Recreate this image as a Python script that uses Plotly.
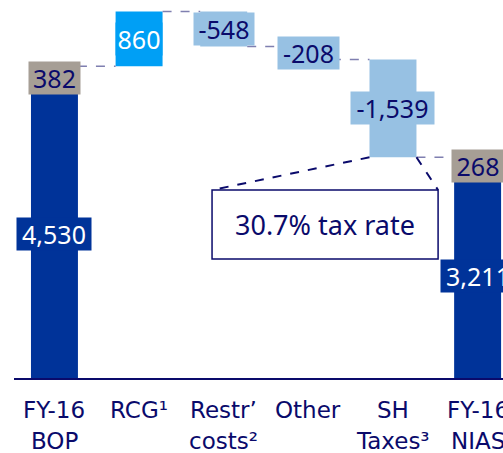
import plotly.graph_objects as go

# chart data
categories = ["FY-16<br>BOP", "RCG¹", "Restr’<br>costs²", "Other", "SH<br>Taxes³", "FY-16<br>NIAS"]
bop = 4530
bop_adj = 382
rcg = 860
restr = -548
other = -208
taxes = -1539
nias = 3211
nias_adj = 268
tax_rate_note = "30.7% tax rate"

NAVY = "#0a0a6b"
DARK = "#003399"
GREY = "#a69e95"
BRIGHT = "#009ff5"
LIGHT = "#97c1e3"
CONN = "#7f7fb0"
FONT = "Noto Sans"
W = 0.555

# running totals for the waterfall
start_total = bop + bop_adj
after_rcg = start_total + rcg
after_restr = after_rcg + restr
after_other = after_restr + other
after_taxes = after_other + taxes

fig = go.Figure()

# totals (dark part + grey adjustment)
fig.add_trace(go.Bar(x=[0, 5], y=[bop, nias], base=[0, 0], width=W,
                     marker=dict(color=DARK, line_width=0)))
fig.add_trace(go.Bar(x=[0, 5], y=[bop_adj, nias_adj], base=[bop, nias], width=W,
                     marker=dict(color=GREY, line_width=0)))
# positive step
fig.add_trace(go.Bar(x=[1], y=[rcg], base=[start_total], width=W,
                     marker=dict(color=BRIGHT, line_width=0)))
# negative steps
fig.add_trace(go.Bar(x=[2, 3, 4], y=[-restr, -other, -taxes],
                     base=[after_restr, after_other, after_taxes], width=W,
                     marker=dict(color=LIGHT, line_width=0)))

# dashed connectors between bars
levels = [start_total, after_rcg, after_restr, after_other, after_taxes]
for i, lvl in enumerate(levels):
    fig.add_shape(type="line", x0=i + W / 2, x1=i + 1 - W / 2, y0=lvl, y1=lvl,
                  line=dict(color=CONN, width=1.5, dash="dash"))

# value labels
def box_label(x, y, text, w, bg, color=NAVY):
    fig.add_annotation(x=x, y=y, text=text, showarrow=False, width=w, height=32,
                       bgcolor=bg, borderpad=0,
                       font=dict(family=FONT, size=25, color=color))

box_label(0, bop / 2, f"{bop:,}", 74, DARK, "white")
box_label(0, bop + bop_adj / 2, f"{bop_adj:,}", 51, GREY)
box_label(1, start_total + rcg / 2, f"{rcg:,}", 46, BRIGHT, "white")
box_label(2, after_rcg + restr / 2, f"{restr:,}", 60, LIGHT)
box_label(3, after_restr + other / 2, f"{other:,}", 61, LIGHT)
box_label(4, after_other + taxes / 2, f"{taxes:,}", 83, LIGHT)
box_label(5, nias / 2, f"{nias:,}", 74, DARK, "white")
box_label(5, nias + nias_adj / 2, f"{nias_adj:,}", 52, GREY)

# tax rate callout
bx0, bx1, by0, by1 = 1.862, 4.533, 1874, 2961
fig.add_shape(type="rect", x0=bx0, x1=bx1, y0=by0, y1=by1,
              line=dict(color=NAVY, width=1.5), fillcolor="white")
fig.add_shape(type="line", x0=4 - W / 2, y0=after_taxes, x1=bx0, y1=by1,
              line=dict(color=NAVY, width=2, dash="dash"))
fig.add_shape(type="line", x0=4 + W / 2, y0=after_taxes, x1=bx1, y1=by1,
              line=dict(color=NAVY, width=2, dash="dash"))
fig.add_annotation(x=(bx0 + bx1) / 2, y=(by0 + by1) / 2, text=tax_rate_note,
                   showarrow=False, font=dict(family=FONT, size=27, color=NAVY))

# category labels, one annotation per line
for i, cat in enumerate(categories):
    for j, line in enumerate(cat.split("<br>")):
        fig.add_annotation(x=i, y=0, yref="y", text=line, showarrow=False,
                           yanchor="middle", yshift=-32 - 31 * j,
                           font=dict(family="DejaVu Sans", size=23, color=NAVY))

fig.update_layout(
    width=503, height=453,
    margin=dict(l=14, r=0, t=0, b=75),
    barmode="overlay",
    showlegend=False,
    plot_bgcolor="white",
    paper_bgcolor="white",
    xaxis=dict(range=[-0.478, 5.30], showgrid=False, zeroline=False,
               showticklabels=False, showline=True, linecolor=NAVY, linewidth=2),
    yaxis=dict(range=[0, 5955], visible=False),
)

fig.write_html("out.html", config={"displayModeBar": False},
               post_script="document.body.style.margin='0';document.body.style.overflow='hidden';")
